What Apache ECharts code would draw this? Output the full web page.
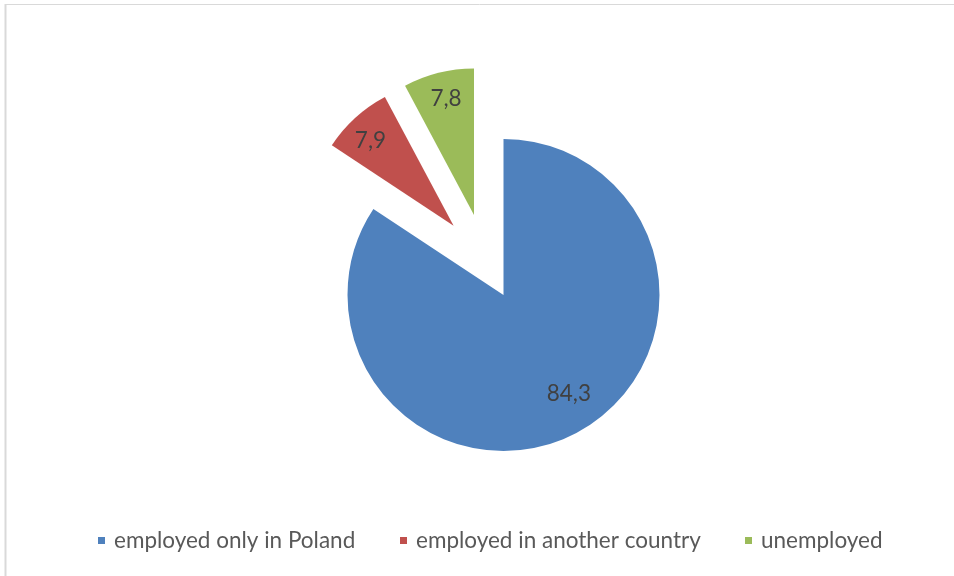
<!DOCTYPE html>
<html>
<head>
<meta charset="utf-8">
<script src="https://cdn.jsdelivr.net/npm/echarts@6/dist/echarts.min.js"></script>
<style>
html,body{margin:0;padding:0;background:#fff;}
#chart{width:954px;height:576px;}
</style>
</head>
<body>
<div id="chart"></div>
<script>
// ---- data ----
const categories = ['employed only in Poland', 'employed in another country', 'unemployed'];
const values = [84.3, 7.9, 7.8];

// ---- styles / layout ----
const colors = ['#4F81BD', '#C0504D', '#9BBB59'];
const FONT = 'Lato, "Liberation Sans", sans-serif';
const sliceCenters = [[503.5, 295], [453.6, 225.7], [474, 215]];
const sliceRadii = [156, 146, 146.5];
const labelOffsets = [[27, 27], [-32, -29], [-9.5, -42]];
const legendLefts = [98, 400, 745];

const fmt = v => String(v).replace('.', ',');

const series = categories.map((cat, i) => ({
  type: 'pie',
  center: sliceCenters[i],
  radius: [0, sliceRadii[i]],
  startAngle: 90,
  clockwise: true,
  avoidLabelOverlap: false,
  animation: false,
  emphasis: { disabled: true },
  labelLine: { show: false },
  data: categories.map((c, j) => j === i ? {
    name: c,
    value: values[j],
    itemStyle: { color: colors[j], borderWidth: 0 },
    label: {
      show: true, position: 'inside', offset: labelOffsets[j],
      formatter: p => fmt(p.value),
      color: '#404040', fontSize: 22.5, fontFamily: FONT
    }
  } : {
    name: '_hidden_' + i + '_' + j,
    value: values[j],
    itemStyle: { color: 'rgba(0,0,0,0)', borderWidth: 0 },
    label: { show: false },
    tooltip: { show: false }
  })
}));

const legends = categories.map((c, i) => ({
  data: [c],
  left: legendLefts[i],
  top: 529,
  padding: 0,
  icon: 'rect',
  itemWidth: 7,
  itemHeight: 7,
  selectedMode: false,
  textStyle: { color: '#595959', fontSize: 22.5, fontFamily: FONT, padding: [3, 0, 0, 4] }
}));

const chart = echarts.init(document.getElementById('chart'), null, { renderer: 'canvas' });
chart.setOption({
  backgroundColor: '#ffffff',
  animation: false,
  legend: legends,
  series: series,
  graphic: [
    { type: 'line', shape: { x1: 5, y1: 4.5, x2: 954, y2: 4.5 }, style: { stroke: '#d9d9d9', lineWidth: 1 }, silent: true },
    { type: 'line', shape: { x1: 5.5, y1: 4, x2: 5.5, y2: 576 }, style: { stroke: '#d9d9d9', lineWidth: 2 }, silent: true }
  ]
});
</script>
</body>
</html>
